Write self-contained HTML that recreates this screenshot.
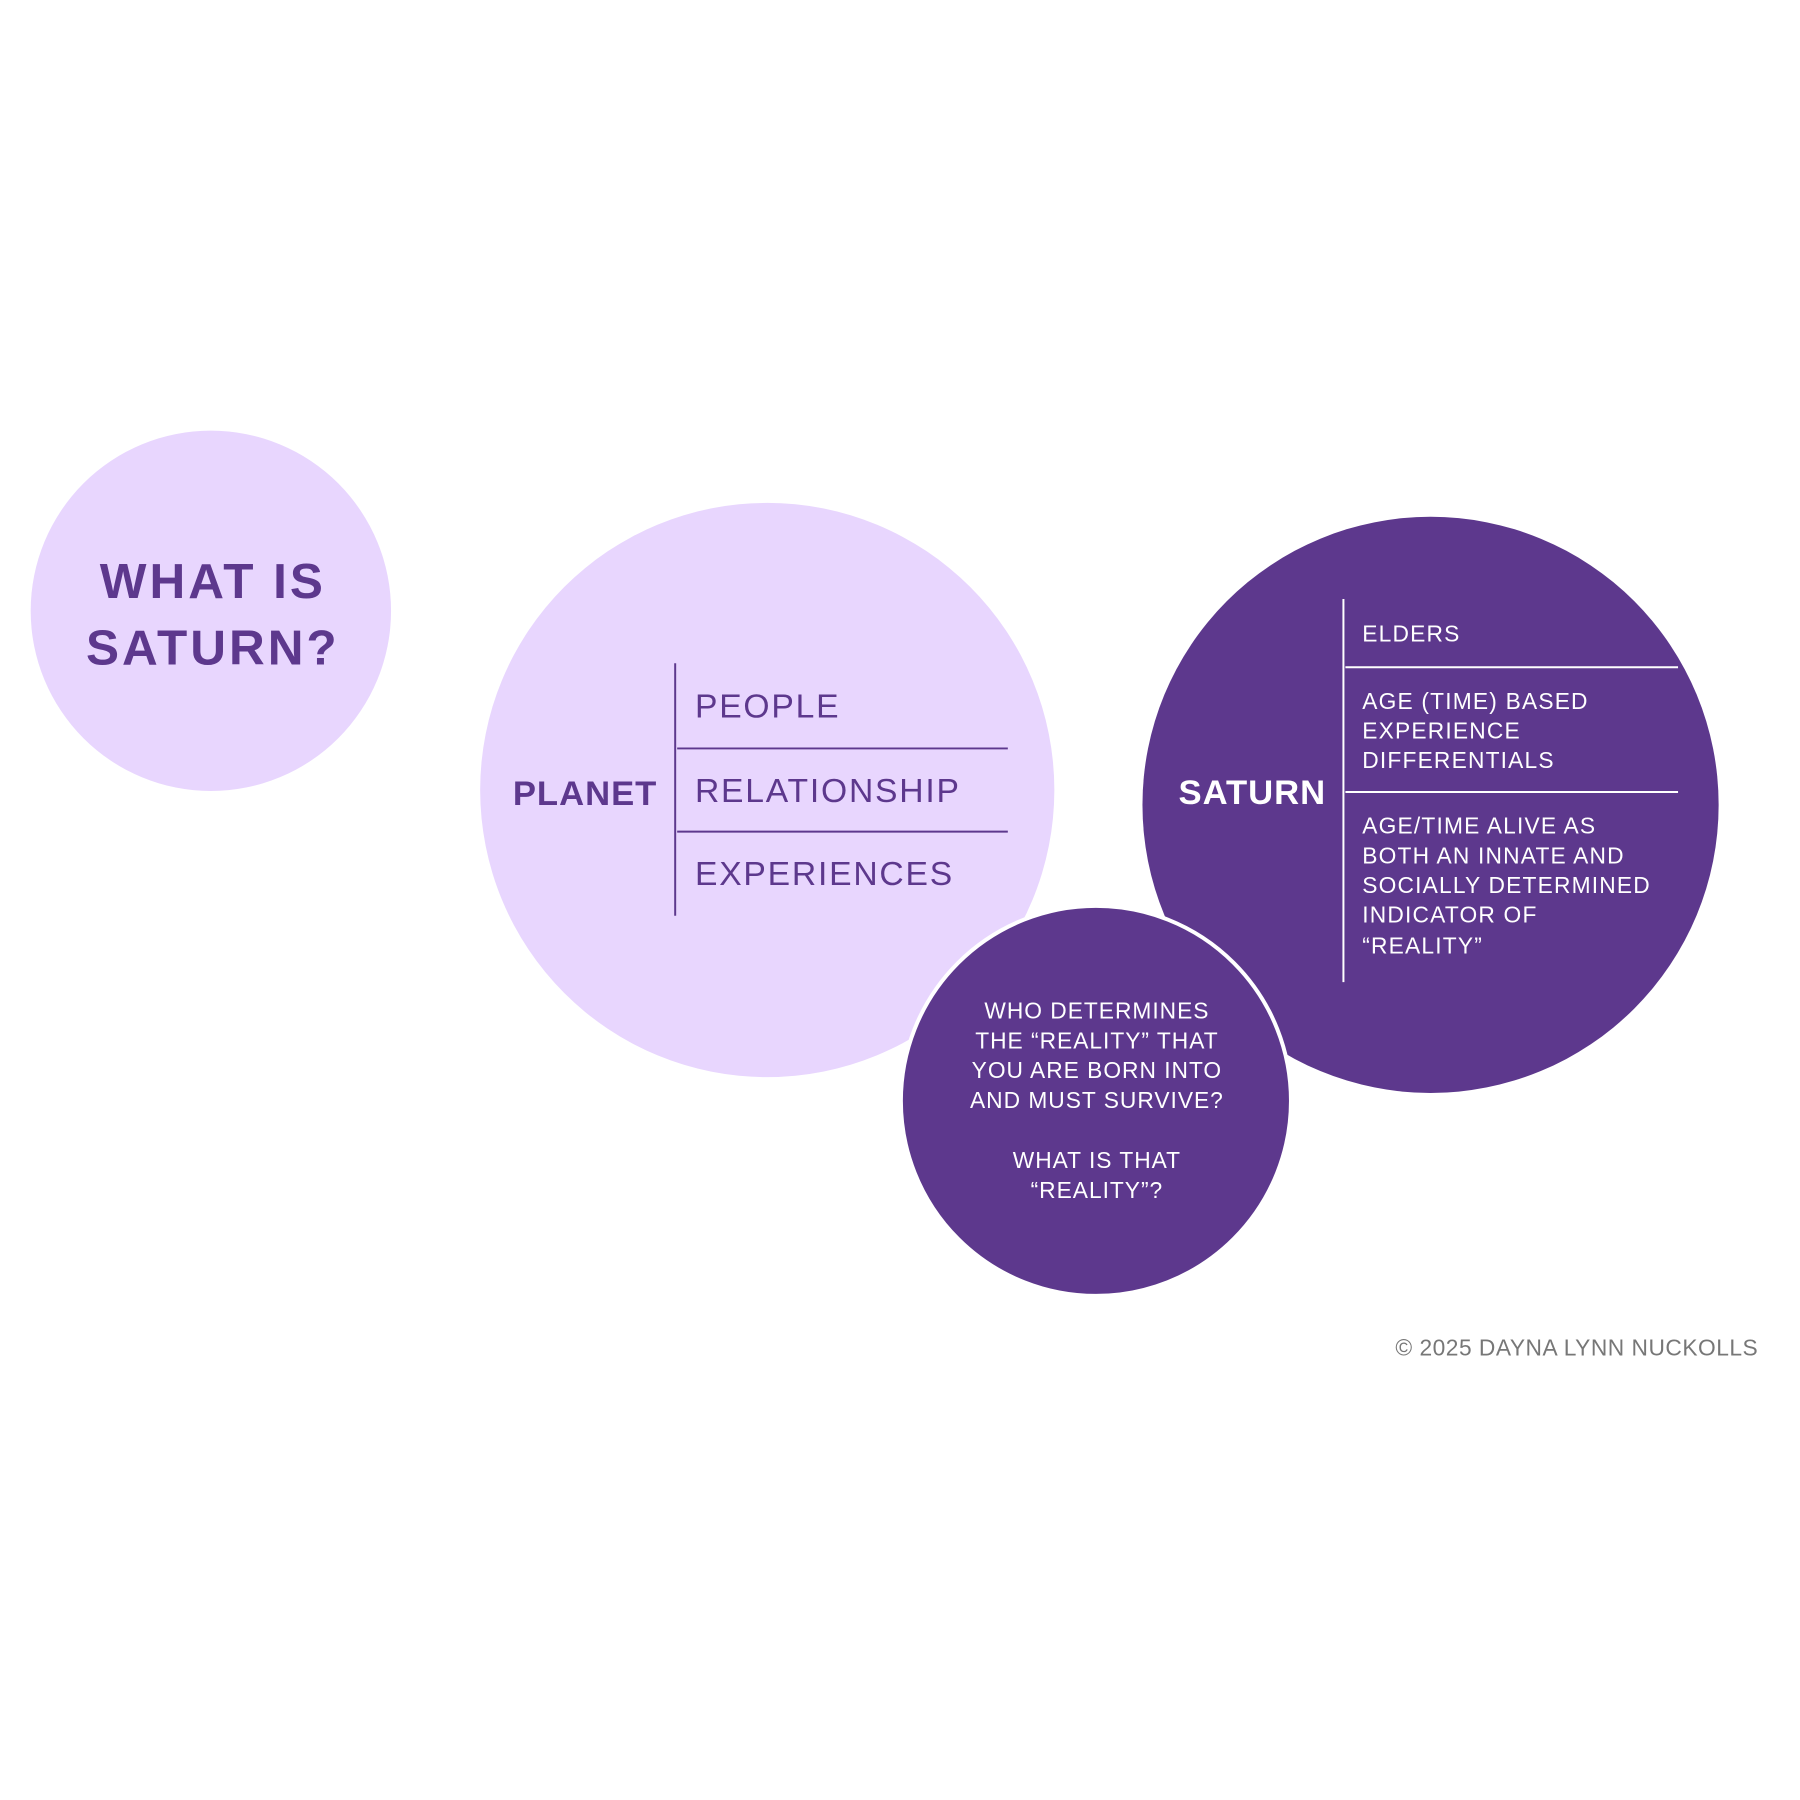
<!DOCTYPE html>
<html><head><meta charset="utf-8"><style>html,body{margin:0;padding:0;background:#fff}svg{display:block}</style></head>
<body>
<svg width="1800" height="1800" viewBox="0 0 1800 1800" xmlns="http://www.w3.org/2000/svg" font-family="Liberation Sans, sans-serif">
<rect width="1800" height="1800" fill="#fff"/>
<g transform="scale(0.99)">
<circle cx="213" cy="617" r="182" fill="#E8D6FE"/>
<circle cx="775" cy="798" r="290" fill="#E8D6FE"/>
<circle cx="1445" cy="813" r="291" fill="#5D388D"/>
<circle cx="1107" cy="1112" r="197" fill="#5D388D" stroke="#fff" stroke-width="4"/>
<g fill="#5D388D" font-weight="bold" font-size="50" text-anchor="middle" letter-spacing="3">
<text x="215" y="604">WHAT IS</text>
<text x="215" y="671">SATURN?</text>
</g>
<text x="591" y="813" fill="#5D388D" font-weight="bold" font-size="35" text-anchor="middle" letter-spacing="1">PLANET</text>
<g stroke="#5D388D" stroke-width="2">
<line x1="682" y1="670" x2="682" y2="925"/>
<line x1="684" y1="756" x2="1018" y2="756"/>
<line x1="684" y1="840" x2="1018" y2="840"/>
</g>
<g fill="#5D388D" font-size="34" letter-spacing="1.8">
<text x="702" y="725">PEOPLE</text>
<text x="702" y="810">RELATIONSHIP</text>
<text x="702" y="894">EXPERIENCES</text>
</g>
<text x="1265" y="812" fill="#fff" font-weight="bold" font-size="35" text-anchor="middle" letter-spacing="1">SATURN</text>
<g stroke="#fff" stroke-width="2">
<line x1="1357" y1="605" x2="1357" y2="992"/>
<line x1="1359" y1="674" x2="1695" y2="674"/>
<line x1="1359" y1="800" x2="1695" y2="800"/>
</g>
<g fill="#fff" font-size="23" letter-spacing="1.2">
<text x="1376" y="648">ELDERS</text>
<text x="1376" y="716">AGE (TIME) BASED</text>
<text x="1376" y="746">EXPERIENCE</text>
<text x="1376" y="776">DIFFERENTIALS</text>
<text x="1376" y="842">AGE/TIME ALIVE AS</text>
<text x="1376" y="872">BOTH AN INNATE AND</text>
<text x="1376" y="902">SOCIALLY DETERMINED</text>
<text x="1376" y="932">INDICATOR OF</text>
<text x="1376" y="963">“REALITY”</text>
</g>
<g fill="#fff" font-size="23" text-anchor="middle" letter-spacing="1">
<text x="1108" y="1029">WHO DETERMINES</text>
<text x="1108" y="1059">THE “REALITY” THAT</text>
<text x="1108" y="1089">YOU ARE BORN INTO</text>
<text x="1108" y="1119">AND MUST SURVIVE?</text>
<text x="1108" y="1180">WHAT IS THAT</text>
<text x="1108" y="1210">“REALITY”?</text>
</g>
<text x="1776" y="1369" fill="#777" font-size="23" text-anchor="end" letter-spacing="0.5">© 2025 DAYNA LYNN NUCKOLLS</text>
</g>
</svg>
</body></html>
